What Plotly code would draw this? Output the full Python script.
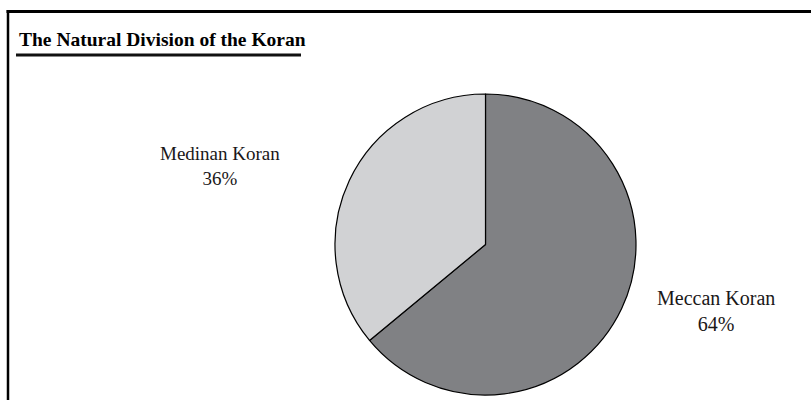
import plotly.graph_objects as go

W, H = 811, 400

labels = ["Meccan Koran", "Medinan Koran"]
values = [64, 36]
colors = ["#808184", "#d1d2d4"]
title_text = "The Natural Division of the Koran"

def px(x):
    return x / W

def py(y):
    return 1 - y / H

fig = go.Figure()
fig.add_trace(go.Pie(
    labels=labels,
    values=values,
    sort=False,
    direction="clockwise",
    rotation=0,
    textinfo="none",
    hoverinfo="label+percent",
    marker=dict(colors=colors, line=dict(color="#000000", width=1.2)),
    domain=dict(x=[px(335), px(636)], y=[py(395), py(94)]),
    showlegend=False,
))

total = sum(values)
label_pos = {"Meccan Koran": (716, 311), "Medinan Koran": (220, 166)}
label_size = {"Meccan Koran": 20, "Medinan Koran": 19}
annotations = []
for lab, val in zip(labels, values):
    x, y = label_pos[lab]
    annotations.append(dict(
        x=px(x), y=py(y), xref="paper", yref="paper",
        text=f"{lab}<br>{round(100 * val / total)}%",
        showarrow=False, xanchor="center", yanchor="middle", align="center",
        font=dict(family="Liberation Serif, Times New Roman, serif", size=label_size[lab], color="#1a1718"),
    ))

annotations.append(dict(
    x=px(17), y=py(40), xref="paper", yref="paper",
    text=f"<b>{title_text}</b>", showarrow=False,
    xanchor="left", yanchor="middle",
    font=dict(family="Liberation Serif, Times New Roman, serif", size=19.5, color="#000000"),
))

shapes = [
    dict(type="line", xref="paper", yref="paper", x0=px(6.5), x1=px(811), y0=py(11.5), y1=py(11.5),
         line=dict(color="#000000", width=3)),
    dict(type="line", xref="paper", yref="paper", x0=px(8), x1=px(8), y0=py(10), y1=py(400),
         line=dict(color="#000000", width=2.5)),
    dict(type="line", xref="paper", yref="paper", x0=px(16), x1=px(301), y0=py(55), y1=py(55),
         line=dict(color="#111111", width=3)),
]

fig.update_layout(
    width=W, height=H,
    margin=dict(l=0, r=0, t=0, b=0),
    paper_bgcolor="#ffffff", plot_bgcolor="#ffffff",
    annotations=annotations, shapes=shapes,
)

fig.write_html("out.html")
